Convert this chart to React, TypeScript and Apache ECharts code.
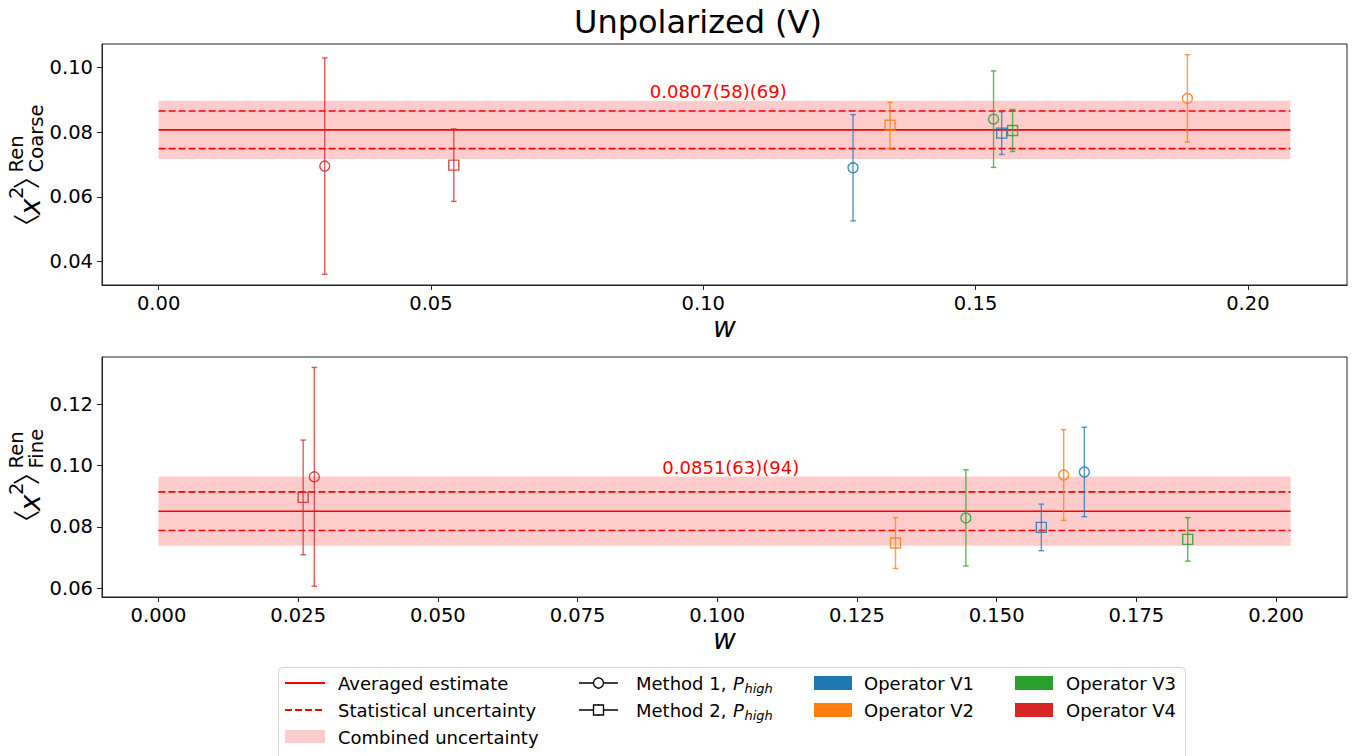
import React, { useEffect, useRef } from "react";
import * as echarts from "echarts";

const FONT = "DejaVu Sans";

// Operators and their colours
const operatorNames = ["Operator V1", "Operator V2", "Operator V3", "Operator V4"];
const operatorColors = ["#1f77b4", "#ff7f0e", "#2ca02c", "#d62728"];

// Coarse lattice data (w, value, error, operator index, method)
const coarseW = [0.0305, 0.0542, 0.1275, 0.1343, 0.1533, 0.1548, 0.1568, 0.1889];
const coarseVal = [0.0695, 0.0698, 0.069, 0.0821, 0.084, 0.0797, 0.0805, 0.0904];
const coarseErr = [0.0334, 0.0112, 0.0164, 0.0071, 0.0149, 0.0066, 0.0065, 0.0135];
const coarseOp = [3, 3, 0, 1, 2, 0, 2, 1];
const coarseMethod = [1, 2, 1, 2, 1, 2, 2, 1];

// Fine lattice data
const fineW = [0.0259, 0.0279, 0.1319, 0.1445, 0.158, 0.162, 0.1657, 0.1842];
const fineVal = [0.0896, 0.0963, 0.0747, 0.0829, 0.0798, 0.0969, 0.0979, 0.0759];
const fineErr = [0.0187, 0.0357, 0.0083, 0.0157, 0.0076, 0.0148, 0.0146, 0.0071];
const fineOp = [3, 3, 1, 2, 0, 1, 0, 2];
const fineMethod = [2, 1, 2, 1, 2, 1, 1, 2];

// Averaged estimates: [mean, statistical, combined]
const coarseAverage = [0.0807, 0.0058, 0.009];
const fineAverage = [0.0851, 0.0063, 0.0113];
const coarseBandEnd = 0.2078;
const fineBandEnd = 0.2026;
const coarseLabel = "0.0807(58)(69)";
const fineLabel = "0.0851(63)(94)";
const labelW = 0.09;

// Axis ticks and ranges
const coarseXTicks = [0, 0.05, 0.1, 0.15, 0.2];
const fineXTicks = [0, 0.025, 0.05, 0.075, 0.1, 0.125, 0.15, 0.175, 0.2];
const coarseYTicks = [0.04, 0.06, 0.08, 0.1];
const fineYTicks = [0.06, 0.08, 0.1, 0.12];
const coarseXRange = [-0.0104, 0.2182];
const fineXRange = [-0.0101, 0.2127];
const coarseYRange = [0.0328, 0.1072];
const fineYRange = [0.0571, 0.1354];

function bandSeries(gridIdx: number, avg: number[], end: number, label: string) {
  return {
    type: "custom",
    xAxisIndex: gridIdx,
    yAxisIndex: gridIdx,
    silent: true,
    z: 1,
    clip: false,
    data: [[0, end, avg[0], avg[1], avg[2]]],
    encode: { x: [0, 1], y: 2 },
    renderItem: (params: any, api: any) => {
      const x0 = api.value(0);
      const x1 = api.value(1);
      const m = api.value(2);
      const s = api.value(3);
      const c = api.value(4);
      const tl = api.coord([x0, m + c]);
      const br = api.coord([x1, m - c]);
      const line = (y: number) => {
        const a = api.coord([x0, y]);
        const b = api.coord([x1, y]);
        return { x1: a[0], y1: a[1], x2: b[0], y2: b[1] };
      };
      const tp = api.coord([labelW, m + c]);
      return {
        type: "group",
        children: [
          {
            type: "rect",
            shape: { x: tl[0], y: tl[1], width: br[0] - tl[0], height: br[1] - tl[1] },
            style: { fill: "#ffcccc" },
          },
          { type: "line", shape: line(m), style: { stroke: "#ff0000", lineWidth: 1.6 } },
          { type: "line", shape: line(m + s), style: { stroke: "#ff0000", lineWidth: 1.6, lineDash: [7, 3] } },
          { type: "line", shape: line(m - s), style: { stroke: "#ff0000", lineWidth: 1.6, lineDash: [7, 3] } },
          {
            type: "text",
            x: tp[0] + 1,
            y: tp[1] - 9,
            style: {
              text: label,
              fill: "#ff0000",
              fontSize: 18,
              fontFamily: FONT,
              align: "left",
              verticalAlign: "middle",
            },
          },
        ],
      };
    },
  };
}

function errorSeries(gridIdx: number, w: number[], v: number[], e: number[], op: number[]) {
  return {
    type: "custom",
    xAxisIndex: gridIdx,
    yAxisIndex: gridIdx,
    silent: true,
    z: 3,
    data: w.map((x, i) => [x, v[i], e[i], op[i]]),
    encode: { x: 0, y: 1 },
    renderItem: (params: any, api: any) => {
      const x = api.value(0);
      const y = api.value(1);
      const err = api.value(2);
      const color = operatorColors[api.value(3)];
      const top = api.coord([x, y + err]);
      const bot = api.coord([x, y - err]);
      const cap = 2.8;
      const st = { stroke: color, lineWidth: 1.4, opacity: 0.75 };
      return {
        type: "group",
        children: [
          { type: "line", shape: { x1: top[0], y1: top[1], x2: bot[0], y2: bot[1] }, style: st },
          { type: "line", shape: { x1: top[0] - cap, y1: top[1], x2: top[0] + cap, y2: top[1] }, style: st },
          { type: "line", shape: { x1: bot[0] - cap, y1: bot[1], x2: bot[0] + cap, y2: bot[1] }, style: st },
        ],
      };
    },
  };
}

function markerSeries(
  gridIdx: number,
  method: number,
  w: number[],
  v: number[],
  op: number[],
  methods: number[]
) {
  const data: any[] = [];
  w.forEach((x, i) => {
    if (methods[i] === method) {
      data.push({ value: [x, v[i]], itemStyle: { borderColor: operatorColors[op[i]] } });
    }
  });
  return {
    type: "scatter",
    name: method === 1 ? "Method 1" : "Method 2",
    xAxisIndex: gridIdx,
    yAxisIndex: gridIdx,
    silent: true,
    z: 4,
    symbol: method === 1 ? "circle" : "rect",
    symbolSize: 10,
    itemStyle: { color: "rgba(0,0,0,0)", borderWidth: 1.4, opacity: 0.85 },
    data,
  };
}

function xAxis(gridIdx: number, range: number[], ticks: number[], digits: number) {
  return {
    type: "value",
    gridIndex: gridIdx,
    min: range[0],
    max: range[1],
    name: "w",
    nameLocation: "middle",
    nameGap: 24,
    nameTextStyle: { fontSize: 28, fontStyle: "italic", fontFamily: FONT, color: "#000" },
    axisLine: { show: true, onZero: false, lineStyle: { color: "#222", width: 1 } },
    axisTick: { show: true, length: 5, customValues: ticks, lineStyle: { color: "#222", width: 1 } },
    axisLabel: {
      customValues: ticks,
      formatter: (val: number) => val.toFixed(digits),
      fontSize: 19.5,
      fontFamily: FONT,
      color: "#000",
      margin: 8,
    },
    splitLine: { show: false },
  };
}

function yAxis(gridIdx: number, range: number[], ticks: number[]) {
  return {
    type: "value",
    gridIndex: gridIdx,
    min: range[0],
    max: range[1],
    axisLine: { show: true, onZero: false, lineStyle: { color: "#222", width: 1 } },
    axisTick: { show: true, length: 5, customValues: ticks, lineStyle: { color: "#222", width: 1 } },
    axisLabel: {
      customValues: ticks,
      formatter: (val: number) => val.toFixed(2),
      fontSize: 19.5,
      fontFamily: FONT,
      color: "#000",
      margin: 9,
    },
    splitLine: { show: false },
  };
}

// Rotated y-axis title  <x^2>^Ren_sub  (local frame: x along reading direction, y = 0 on baseline)
function yLabel(startY: number, sub: string) {
  const t = (text: string, x: number, baseline: number, size: number, italic = false) => ({
    type: "text",
    x,
    y: baseline - 0.346 * size,
    style: {
      text,
      fill: "#000",
      fontSize: size,
      fontFamily: FONT,
      fontStyle: italic ? "italic" : "normal",
      align: "left",
      verticalAlign: "middle",
    },
  });
  const bracket = (pts: number[][]) => ({
    type: "polyline",
    shape: { points: pts },
    style: { stroke: "#000", lineWidth: 1.7, fill: null },
  });
  return {
    type: "group",
    x: 40,
    y: startY,
    rotation: Math.PI / 2,
    children: [
      bracket([[9, -26], [2, -13.5], [9, -1]]),
      t("x", 10, 0, 28, true),
      t("2", 26, -17, 19.6),
      bracket([[38, -26], [45, -13.5], [38, -1]]),
      t("Ren", 52.5, -16.5, 19.6),
      t(sub, 52.5, 3, 19.6),
    ],
  };
}

function legendGraphics() {
  const txt = (text: string, x: number, y: number, size = 18, italic = false) => ({
    type: "text",
    x,
    y,
    style: {
      text,
      fill: "#000",
      fontSize: size,
      fontFamily: FONT,
      fontStyle: italic ? "italic" : "normal",
      align: "left",
      verticalAlign: "middle",
    },
  });
  const rows = [683, 710, 737];
  const els: any[] = [
    {
      type: "rect",
      shape: { x: 278.5, y: 667.5, width: 907, height: 100, r: 4 },
      style: { fill: "#fff", stroke: "#d6d6d6", lineWidth: 1 },
    },
    // column 1
    { type: "line", shape: { x1: 285, y1: rows[0], x2: 325, y2: rows[0] }, style: { stroke: "#ff0000", lineWidth: 2 } },
    txt("Averaged estimate", 338, rows[0]),
    {
      type: "line",
      shape: { x1: 285, y1: rows[1], x2: 325, y2: rows[1] },
      style: { stroke: "#ff0000", lineWidth: 2, lineDash: [7, 3] },
    },
    txt("Statistical uncertainty", 338, rows[1]),
    { type: "rect", shape: { x: 285, y: 730, width: 40, height: 13 }, style: { fill: "#ffcccc" } },
    txt("Combined uncertainty", 338, rows[2]),
  ];
  // column 2: method handles
  [0, 1].forEach((k) => {
    const y = rows[k];
    els.push({ type: "line", shape: { x1: 579, y1: y, x2: 618, y2: y }, style: { stroke: "#000", lineWidth: 1.4 } });
    els.push({ type: "line", shape: { x1: 598.5, y1: y - 6, x2: 598.5, y2: y + 6 }, style: { stroke: "#000", lineWidth: 1.4 } });
    if (k === 0) {
      els.push({ type: "circle", shape: { cx: 598.5, cy: y, r: 5 }, style: { fill: "#fff", stroke: "#000", lineWidth: 1.3 } });
    } else {
      els.push({ type: "rect", shape: { x: 593.5, y: y - 5, width: 10, height: 10 }, style: { fill: "#fff", stroke: "#000", lineWidth: 1.3 } });
    }
    els.push(txt(k === 0 ? "Method 1, " : "Method 2, ", 636, y));
    els.push(txt("P", 733, y, 18, true));
    els.push(txt("high", 744.5, y + 5, 13, true));
  });
  // columns 3 and 4: operator patches
  operatorNames.forEach((name, i) => {
    const col = i < 2 ? 0 : 1;
    const row = i % 2;
    const px = col === 0 ? 814 : 1015;
    const tx = col === 0 ? 864 : 1066;
    els.push({
      type: "rect",
      shape: { x: px, y: rows[row] - 7, width: 38, height: 14 },
      style: { fill: operatorColors[i] },
    });
    els.push(txt(name, tx, rows[row]));
  });
  return els;
}

export default function App() {
  const ref = useRef<HTMLDivElement>(null);
  useEffect(() => {
    if (!ref.current) return;
    const chart = echarts.init(ref.current, null, { renderer: "svg" });
    const option: any = {
      animation: false,
      backgroundColor: "#fff",
      title: {
        text: "Unpolarized (V)",
        left: 569,
        top: 1,
        textStyle: { fontSize: 32, fontWeight: "normal", fontFamily: FONT, color: "#000" },
      },
      grid: [
        { left: 102, top: 44, width: 1245, height: 241, show: true, borderColor: "#222", borderWidth: 1, backgroundColor: "transparent" },
        { left: 102, top: 357, width: 1245, height: 240, show: true, borderColor: "#222", borderWidth: 1, backgroundColor: "transparent" },
      ],
      xAxis: [xAxis(0, coarseXRange, coarseXTicks, 2), xAxis(1, fineXRange, fineXTicks, 3)],
      yAxis: [yAxis(0, coarseYRange, coarseYTicks), yAxis(1, fineYRange, fineYTicks)],
      series: [
        bandSeries(0, coarseAverage, coarseBandEnd, coarseLabel),
        errorSeries(0, coarseW, coarseVal, coarseErr, coarseOp),
        markerSeries(0, 1, coarseW, coarseVal, coarseOp, coarseMethod),
        markerSeries(0, 2, coarseW, coarseVal, coarseOp, coarseMethod),
        bandSeries(1, fineAverage, fineBandEnd, fineLabel),
        errorSeries(1, fineW, fineVal, fineErr, fineOp),
        markerSeries(1, 1, fineW, fineVal, fineOp, fineMethod),
        markerSeries(1, 2, fineW, fineVal, fineOp, fineMethod),
      ],
      graphic: [yLabel(225, "Coarse"), yLabel(521, "Fine"), ...legendGraphics()],
    };
    chart.setOption(option);
    return () => chart.dispose();
  }, []);
  return (
    <div
      ref={ref}
      style={{ position: "absolute", left: 0, top: 0, width: 1353, height: 756, background: "#fff" }}
    />
  );
}
